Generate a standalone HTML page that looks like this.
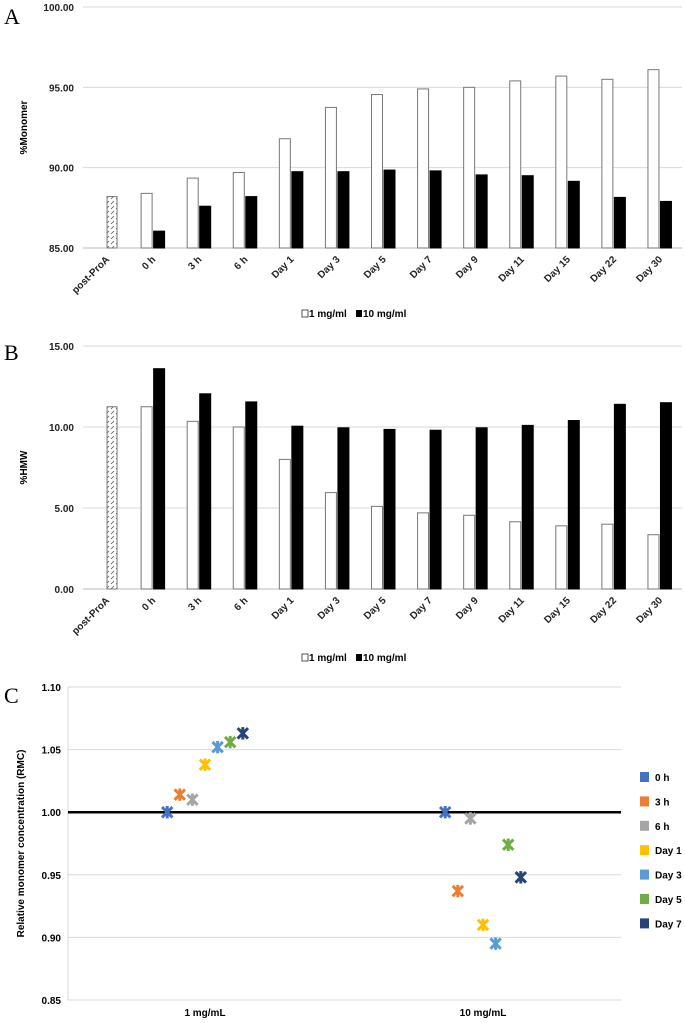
<!DOCTYPE html>
<html><head><meta charset="utf-8"><style>
body{margin:0;background:#fff;}
svg{display:block;font-family:"Liberation Sans",Arial,sans-serif;}
</style></head><body>
<svg id="fig" width="685" height="1023" viewBox="0 0 685 1023" xmlns="http://www.w3.org/2000/svg">
<defs>
<pattern id="hatch" width="5" height="5" patternUnits="userSpaceOnUse"><rect width="5" height="5" fill="#fff"/><path d="M1,4 L4,1" stroke="#555" stroke-width="0.8"/></pattern>
</defs>
<text x="4" y="24" font-family="Liberation Serif,serif" font-size="22">A</text>
<text x="4" y="360" font-family="Liberation Serif,serif" font-size="22">B</text>
<text x="4" y="703" font-family="Liberation Serif,serif" font-size="22">C</text>
<g id="chartA"></g>
<g id="chartB"></g>
<g id="chartC"></g>
</svg>
<script>
const categories = ["post-ProA","0 h","3 h","6 h","Day 1","Day 3","Day 5","Day 7","Day 9","Day 11","Day 15","Day 22","Day 30"];
const monomer1 = [85.0,88.4,89.35,89.7,91.8,93.75,94.55,94.9,95.0,95.4,95.7,95.5,96.1];
const monomer10 = [88.2,86.05,87.6,88.2,89.75,89.75,89.85,89.8,89.55,89.5,89.15,88.15,87.9];
const monomerTicks = ["85.00","90.00","95.00","100.00"];
const hmw1 = [0,11.25,10.35,10.0,8.0,5.95,5.1,4.7,4.55,4.15,3.9,4.0,3.35];
const hmw10 = [11.25,13.6,12.05,11.55,10.05,9.95,9.85,9.8,9.95,10.1,10.4,11.4,11.5];
const hmwTicks = ["0.00","5.00","10.00","15.00"];
const rmcGroups = ["1 mg/mL","10 mg/mL"];
const rmcSeries = ["0 h","3 h","6 h","Day 1","Day 3","Day 5","Day 7"];
const rmc1 = [1.000,1.014,1.010,1.038,1.052,1.056,1.063];
const rmc10 = [1.000,0.937,0.995,0.910,0.895,0.974,0.948];
const rmcTicks = ["0.85","0.90","0.95","1.00","1.05","1.10"];
const NS="http://www.w3.org/2000/svg";
function mk(parent,tag,attrs,text){const e=document.createElementNS(NS,tag);for(const k in attrs)e.setAttribute(k,attrs[k]);if(text!==undefined)e.textContent=text;parent.appendChild(e);return e;}

function barChart(g,o){
  const L=83,R=682,T=o.top,B=o.bottom,min=+o.ticks[0],max=+o.ticks[o.ticks.length-1];
  const y=v=>B-(v-min)/(max-min)*(B-T);
  const bw=(R-L)/categories.length;
  o.ticks.forEach(t=>{
    const gl=mk(g,'line',{x1:L,x2:R,y1:y(+t),y2:y(+t),stroke:+t===min?'#bbb':'#d9d9d9','stroke-width':1});
    
    
    const tl=mk(g,'text',{x:L-9,y:y(+t)+4,'text-anchor':'end','font-size':10,'font-weight':'bold',fill:'#222'},t);
    
    
  });
  const yt=mk(g,'text',{transform:`translate(27,${(T+B)/2}) rotate(-90)`,'text-anchor':'middle','font-size':10,'font-weight':'bold'},o.title);
  
  
  categories.forEach((c,i)=>{
    const cx=L+bw*(i+0.5);
    if(i>0 || o.a[i]>min){
      const b1=mk(g,'rect',{x:cx-11,y:y(o.a[i]),width:11,height:B-y(o.a[i]),fill:'#fff',stroke:'#777','stroke-width':1});
      
      
    }
    const b2=mk(g,'rect',{x:i===0?cx+1:cx+1.5,y:y(o.b[i]),width:i===0?10:11,height:B-y(o.b[i]),fill:i===0?'url(#hatch)':'#000',stroke:i===0?'#777':'#000','stroke-width':1});
    
    
    const xl=mk(g,'text',{transform:`translate(${cx+4},${B+12}) rotate(-45)`,'text-anchor':'end','font-size':10,'font-weight':'bold',fill:'#222'},c);
    
    
  });
  const lg=mk(g,'g',{});
  
  
  mk(lg,'rect',{x:302,y:o.leg-7,width:6,height:7,fill:'#fff',stroke:'#555'});
  mk(lg,'text',{x:309,y:o.leg,'font-size':10,'font-weight':'bold'},'1 mg/ml');
  mk(lg,'rect',{x:356,y:o.leg-7,width:6,height:7,fill:'#000'});
  mk(lg,'text',{x:363,y:o.leg,'font-size':10,'font-weight':'bold'},'10 mg/ml');
}
barChart(document.getElementById('chartA'),{top:7,bottom:248,ticks:monomerTicks,a:monomer1,b:monomer10,title:'%Monomer',leg:317});
barChart(document.getElementById('chartB'),{top:346,bottom:589,ticks:hmwTicks,a:hmw1,b:hmw10,title:'%HMW',leg:661});

(function(){
  const g=document.getElementById('chartC');
  const colors=['#4472C4','#ED7D31','#A5A5A5','#FFC000','#5B9BD5','#70AD47','#264478'];
  const L=68,R=621,T=687,B=1000,min=0.85,max=1.10;
  const y=v=>B-(v-min)/(max-min)*(B-T);
  const gx=[205,483];
  rmcTicks.forEach(t=>{
    const gl=mk(g,'line',{x1:L,x2:R,y1:y(+t),y2:y(+t),stroke:'#d9d9d9','stroke-width':1});
    
    
    const tl=mk(g,'text',{x:L-7,y:y(+t)+4,'text-anchor':'end','font-size':10,'font-weight':'bold'},t);
    
    
  });
  mk(g,'line',{x1:L,x2:L,y1:T,y2:B,stroke:'#d9d9d9'});
  const ref=mk(g,'line',{x1:L,x2:R,y1:y(1),y2:y(1),stroke:'#000','stroke-width':2.5});
  
  
  const yt=mk(g,'text',{transform:`translate(24,${(T+B)/2}) rotate(-90)`,'text-anchor':'middle','font-size':10,'font-weight':'bold'},'Relative monomer concentration (RMC)');
  
  
  rmcGroups.forEach((gname,gi)=>{
    const xl=mk(g,'text',{x:gx[gi],y:1016,'text-anchor':'middle','font-size':10,'font-weight':'bold'},gname);
    
    
    const vals=gi===0?rmc1:rmc10;
    vals.forEach((v,si)=>{
      const cx=gx[gi]+(si-3)*12.6, cy=y(v), s=5.2;
      const m=mk(g,'g',{stroke:colors[si],'stroke-width':3,'stroke-linecap':'butt'});
      
      
      mk(m,'line',{x1:cx-s,y1:cy-s,x2:cx+s,y2:cy+s});
      mk(m,'line',{x1:cx-s,y1:cy+s,x2:cx+s,y2:cy-s});
      mk(m,'line',{x1:cx,y1:cy-s-1,x2:cx,y2:cy+s+1});
    });
  });
  rmcSeries.forEach((n,i)=>{
    const ly=777+i*24.4;
    const le=mk(g,'g',{});
    
    
    mk(le,'rect',{x:640,y:ly-5,width:9,height:10,fill:colors[i]});
    mk(le,'text',{x:655,y:ly+4,'font-size':10,'font-weight':'bold'},n);
  });
})();
</script>
</body></html>
